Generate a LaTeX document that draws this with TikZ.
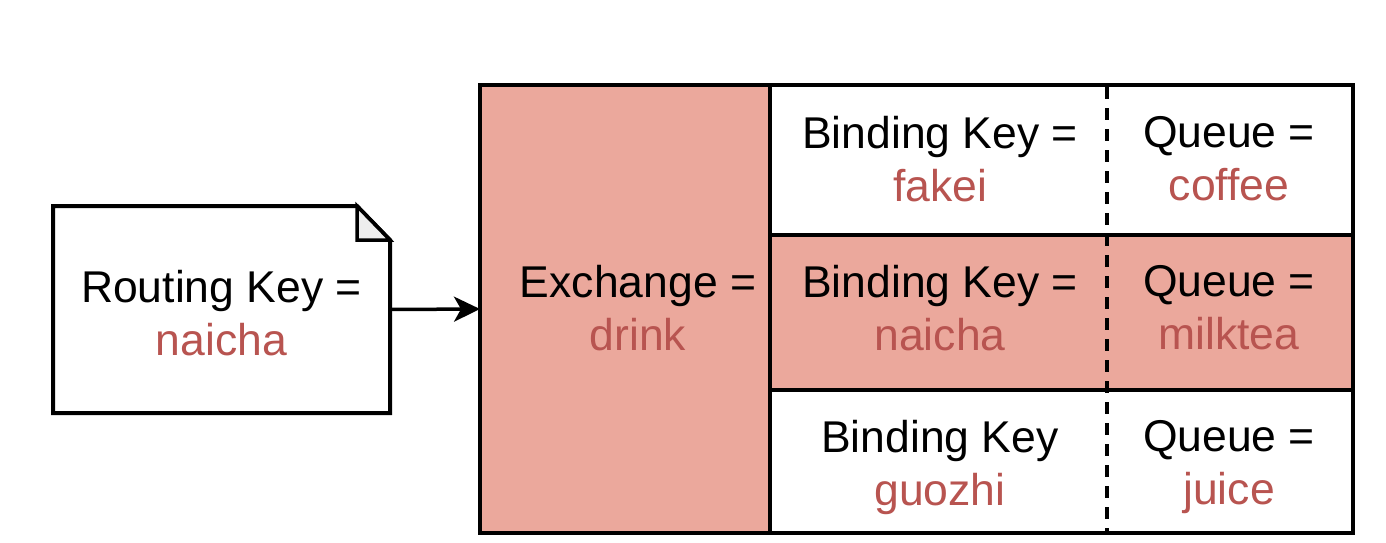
\documentclass[tikz,border=0pt]{standalone}
\usepackage{fontspec}
\setmainfont{Liberation Sans}
\usetikzlibrary{arrows.meta}
\definecolor{salmon}{HTML}{EBA89C}
\definecolor{redtxt}{HTML}{B85450}
\definecolor{foldgray}{HTML}{EEEEEE}
\begin{document}
\begin{tikzpicture}[x=1pt,y=-1pt,
  cell/.style={draw=black, line width=4pt, minimum width=#1, inner sep=0pt, outer sep=0pt},
  lbl/.style={align=center, font=\fontsize{44.5}{53}\selectfont, text=black}]
\useasboundingbox (0,0) rectangle (1386,542);
% note
\node (note) [minimum width=337pt, minimum height=207pt, inner sep=0pt, outer sep=0pt] at (221.5,309.5) {};
\draw[line width=4pt, fill=white, line join=miter]
  (note.north west) -- ([xshift=-33pt]note.north east) -- ([yshift=-34pt]note.north east)
  -- (note.south east) -- (note.south west) -- cycle;
\draw[line width=3.5pt, fill=foldgray, line join=miter]
  ([xshift=-33pt]note.north east) -- ([xshift=-33pt,yshift=-34pt]note.north east) -- ([yshift=-34pt]note.north east) -- cycle;
\node[lbl] (notetxt) at (221.5,313) {Routing Key =\\ \textcolor{redtxt}{naicha}};
% exchange
\node (exch) [cell, fill=salmon, minimum width=290pt, minimum height=448pt] at (625,309) {};
\node[lbl] (exchtxt) at (638,308) {Exchange =\\ \textcolor{redtxt}{drink}};
% rows
\node (r1) [cell, fill=white, minimum width=583pt, minimum height=150pt] at (1061.5,160) {};
\node (r2) [cell, fill=salmon, minimum width=583pt, minimum height=155pt] at (1061.5,312.5) {};
\node (r3) [cell, fill=white, minimum width=583pt, minimum height=143pt] at (1061.5,461.5) {};
\draw[line width=4pt] (exch.north west) rectangle (r3.south east);
% dashed separator
\coordinate (dtop) at (1107,87);
\coordinate (dbot) at (1107,531);
\draw[line width=4pt, dash pattern=on 12pt off 9pt] (dtop) -- (dbot);
% texts
\node[lbl] (b1) at (940,159) {Binding Key =\\ \textcolor{redtxt}{fakei}};
\node[lbl] (q1) at (1229,159) {Queue =\\ \textcolor{redtxt}{coffee}};
\node[lbl] (b2) at (940,308) {Binding Key =\\ \textcolor{redtxt}{naicha}};
\node[lbl] (q2) at (1229,308) {Queue =\\ \textcolor{redtxt}{milktea}};
\node[lbl] (b3) at (940,467) {Binding Key\\ \textcolor{redtxt}{guozhi}};
\node[lbl] (q3) at (1229,467) {Queue =\\ \textcolor{redtxt}{juice}};
% arrow
\draw[line width=3.5pt, -{Stealth[length=26pt, width=25pt, inset=7pt]}] (note.east) -- (exch.west);
\end{tikzpicture}
\end{document}
